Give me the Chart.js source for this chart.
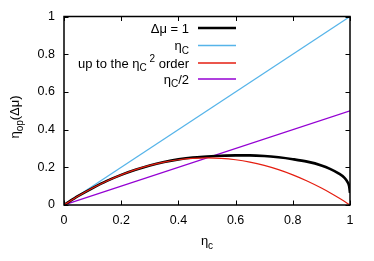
<!DOCTYPE html>
<html><head><meta charset="utf-8">
<script src="https://cdn.jsdelivr.net/npm/chart.js@4/dist/chart.umd.min.js"></script>
<style>html,body{margin:0;padding:0;background:#fff}#wrap{width:374px;height:261px}</style>
</head><body><div id="wrap"><canvas id="c" width="374" height="261"></canvas></div>
<script>
// data
const etaC = [0,0.05,0.1,0.15,0.2,0.25,0.3,0.35,0.4,0.45,0.5,0.55,0.6,0.65,0.7,0.75,0.8,0.85,0.9,0.93,0.96,0.98,0.99,0.997,1];
const etaDmu1 = [0,0.048,0.09,0.128,0.16,0.187,0.21,0.228,0.242,0.252,0.257,0.261,0.263,0.263,0.26,0.253,0.243,0.23,0.21,0.192,0.168,0.145,0.125,0.1,0.064];
const etaSecondOrder = [0,0.0475,0.09,0.1275,0.16,0.1875,0.21,0.2275,0.24,0.2475,0.25,0.2475,0.24,0.2275,0.21,0.1875,0.16,0.1275,0.09,0.0651,0.0384,0.0196,0.0099,0.003,0];
const lineX = [0,1];
const carnotY = [0,1];
const halfCarnotY = [0,0.5];
const xTicks = [0,0.2,0.4,0.6,0.8,1];
const yTicks = [0,0.2,0.4,0.6,0.8,1];
const seriesNames = ["Δμ = 1","ηC","up to the ηC2 order","ηC/2"];

const FONT = '"Liberation Sans", Arial, sans-serif';
const COLORS = ['#000000','#56b4e9','#e51e10','#9400d3'];
const WIDTHS = [2.6,1.2,1.2,1.2];

function pts(xs, ys){ return xs.map((x,i)=>({x:x,y:ys[i]})); }

const legendRich = [
  [{t:'Δμ = 1'}],
  [{t:'η'},{t:'C',m:'sub'}],
  [{t:'up to the η'},{t:'C',m:'sub'},{t:' 2',m:'sup'},{t:' order'}],
  [{t:'η'},{t:'C',m:'sub'},{t:'/2'}]
];

function drawRich(ctx, segs, x, y, align, size){
  const small = Math.round(size*0.8);
  const parts = [];
  segs.forEach(s=>{
    const fs = s.m ? small : size;
    ctx.font = fs+'px '+FONT;
    parts.push({s:s, fs:fs, w:ctx.measureText(s.t).width});
  });
  const w = parts.reduce((a,p)=>a+p.w,0);
  let cx = align==='right' ? x - w : align==='center' ? x - w/2 : x;
  ctx.textBaseline = 'alphabetic'; ctx.textAlign='left';
  parts.forEach(p=>{
    ctx.font = p.fs+'px '+FONT;
    const dy = p.s.m==='sub' ? size*0.3 : p.s.m==='sup' ? -size*0.45 : 0;
    ctx.fillText(p.s.t, cx, y+dy);
    cx += p.w;
  });
}

const decor = {
  id:'decor',
  afterDraw(chart){
    const ctx = chart.ctx, a = chart.chartArea;
    const xs = chart.scales.x, ys = chart.scales.y;
    ctx.save();
    ctx.strokeStyle='#000'; ctx.lineWidth=1.5;
    ctx.strokeRect(a.left, a.top, a.right-a.left, a.bottom-a.top);
    ctx.lineWidth=1;
    const L=4.5;
    xTicks.forEach(v=>{
      const px = Math.round(xs.getPixelForValue(v))+0.5;
      ctx.beginPath();
      ctx.moveTo(px,a.bottom); ctx.lineTo(px,a.bottom-L);
      ctx.moveTo(px,a.top); ctx.lineTo(px,a.top+L);
      ctx.stroke();
    });
    yTicks.forEach(v=>{
      const py = Math.round(ys.getPixelForValue(v))+0.5;
      ctx.beginPath();
      ctx.moveTo(a.left,py); ctx.lineTo(a.left+L,py);
      ctx.moveTo(a.right,py); ctx.lineTo(a.right-L,py);
      ctx.stroke();
    });
    ctx.fillStyle='#000';
    const rows=[32.5,50,67.5,83.5];
    legendRich.forEach((segs,i)=>{
      drawRich(ctx, segs, 189, rows[i], 'right', 13);
      ctx.strokeStyle=COLORS[i]; ctx.lineWidth=i===0?2.5:1.5;
      ctx.beginPath(); ctx.moveTo(198, rows[i]-4.5); ctx.lineTo(236, rows[i]-4.5); ctx.stroke();
    });
    ctx.fillStyle='#000';
    drawRich(ctx, [{t:'η'},{t:'c',m:'sub'}], (a.left+a.right)/2, 245, 'center', 13);
    ctx.save();
    ctx.translate(19, 117); ctx.rotate(-Math.PI/2);
    drawRich(ctx, [{t:'η'},{t:'op',m:'sub'},{t:'(Δμ)'}], 0, 0, 'center', 13);
    ctx.restore();
    ctx.restore();
  }
};

new Chart(document.getElementById('c'), {
  type:'line',
  data:{ datasets:[
    {label:seriesNames[0], data:pts(etaC,etaDmu1), borderColor:COLORS[0], borderWidth:WIDTHS[0], cubicInterpolationMode:'monotone', order:1},
    {label:seriesNames[1], data:pts(lineX,carnotY), borderColor:COLORS[1], borderWidth:WIDTHS[1], order:3},
    {label:seriesNames[2], data:pts(etaC,etaSecondOrder), borderColor:COLORS[2], borderWidth:WIDTHS[2], cubicInterpolationMode:'monotone', order:0},
    {label:seriesNames[3], data:pts(lineX,halfCarnotY), borderColor:COLORS[3], borderWidth:WIDTHS[3], order:2}
  ]},
  options:{
    responsive:false, animation:false, devicePixelRatio:1,
    elements:{point:{radius:0}, line:{fill:false}},
    layout:{padding:{left:0,right:24,top:13,bottom:0}},
    plugins:{legend:{display:false}, tooltip:{enabled:false}},
    scales:{
      x:{type:'linear', min:0, max:1,
        afterBuildTicks(s){ s.ticks = xTicks.map(v=>({value:v})); },
        afterFit(s){ s.height = 56; },
        grid:{display:false, drawTicks:false}, border:{display:false},
        ticks:{padding:8, color:'#000', font:{family:FONT, size:12.5}, callback:(v)=>String(v), maxRotation:0, autoSkip:false}},
      y:{type:'linear', min:0, max:1,
        afterBuildTicks(s){ s.ticks = yTicks.map(v=>({value:v})); },
        afterFit(s){ s.width = 64; },
        grid:{display:false, drawTicks:false}, border:{display:false},
        ticks:{padding:9, color:'#000', font:{family:FONT, size:12.5}, callback:(v)=>String(v), autoSkip:false}}
    }
  },
  plugins:[decor]
});
</script></body></html>
